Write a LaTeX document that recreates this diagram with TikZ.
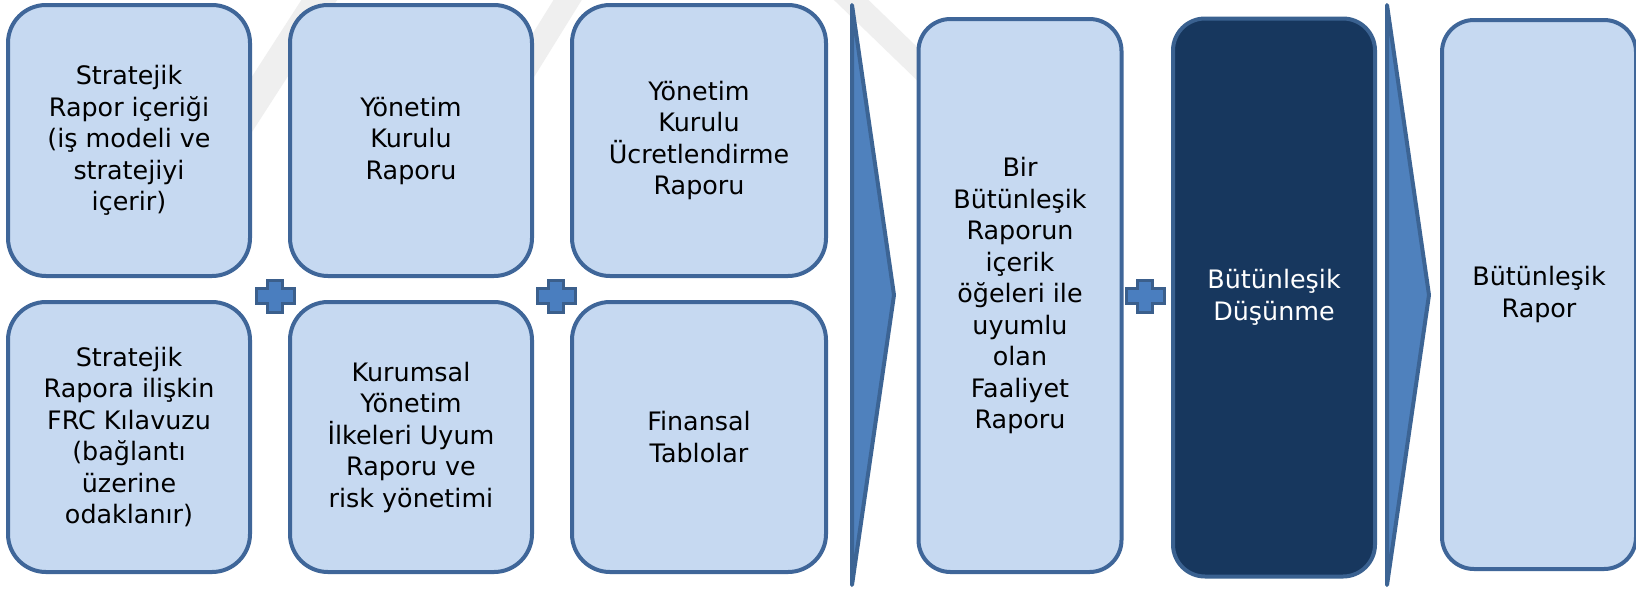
\documentclass[tikz,border=0pt]{standalone}
\usepackage{fontspec}
\setmainfont{DejaVu Sans}
\definecolor{boxfill}{HTML}{C6D9F1}
\definecolor{boxline}{HTML}{3F6699}
\definecolor{chevfill}{HTML}{4F81BD}
\definecolor{chevline}{HTML}{3C6494}
\definecolor{darkfill}{HTML}{17375E}
\definecolor{darkline}{HTML}{3A6190}
\definecolor{plusfill}{HTML}{4A7EBF}
\definecolor{plusline}{HTML}{3B5F8C}
\definecolor{faintgray}{HTML}{EFEFEF}
\tikzset{
  boxtext/.style={font=\fontsize{25.4}{31.5}\selectfont, align=center,
    execute at begin node={\rule{0pt}{1.3em}}},
  lbox/.style={boxtext, draw=boxline, fill=boxfill, line width=4pt,
    rounded corners=38pt, inner sep=0pt, text=black},
  tbox/.style={lbox, rounded corners=32pt},
  dbox/.style={tbox, draw=darkline, fill=darkfill, text=white},
  chevron/.style={draw=chevline, fill=chevfill, line width=4pt, line join=round},
  plussign/.pic={
    \draw[draw=plusline, fill=plusfill, line width=3pt]
      (-19,-7.5) -- (-7.5,-7.5) -- (-7.5,-16) -- (7.5,-16) -- (7.5,-7.5)
      -- (19,-7.5) -- (19,7.5) -- (7.5,7.5) -- (7.5,16) -- (-7.5,16)
      -- (-7.5,7.5) -- (-19,7.5) -- cycle;
  },
  band/.style={draw=faintgray, line width=30pt}
}
\begin{document}
\begin{tikzpicture}[x=1pt,y=-1pt]
\useasboundingbox (0,0) rectangle (1636,590);
\fill[white] (0,0) rectangle (1636,590);

% faint background marks
\draw[band] (345,-40) -- (200,185);
\draw[band, line width=24pt] (580,-20) -- (515,85);
\draw[band, line width=24pt] (815,-35) -- (965,110);

% first group: six source documents
\node[lbox, minimum width=242pt, minimum height=271pt] (a1) at (129,140.5)
  {Stratejik\\Rapor içeriği\\(iş modeli ve\\stratejiyi\\içerir)};
\node[lbox, minimum width=242pt, minimum height=270pt] (a2) at (129,437)
  {Stratejik\\Rapora ilişkin\\FRC Kılavuzu\\(bağlantı\\üzerine\\odaklanır)};
\node[lbox, minimum width=242pt, minimum height=271pt] (b1) at (411,140.5)
  {Yönetim\\Kurulu\\Raporu};
\node[lbox, minimum width=242pt, minimum height=270pt] (b2) at (411,437)
  {Kurumsal\\Yönetim\\İlkeleri Uyum\\Raporu ve\\risk yönetimi};
\node[lbox, minimum width=254pt, minimum height=271pt] (c1) at (699,140.5)
  {Yönetim\\Kurulu\\Ücretlendirme\\Raporu};
\node[lbox, minimum width=254pt, minimum height=270pt] (c2) at (699,437)
  {Finansal\\Tablolar};

\pic at (275,296) {plussign};
\pic at (556,296) {plussign};

% first arrow
\draw[chevron] (852,5) -- (894,295) -- (852,585) -- cycle;

% second group
\node[tbox, minimum width=203pt, minimum height=553pt] (d) at (1020,295.5)
  {Bir\\Bütünleşik\\Raporun\\içerik\\öğeleri ile\\uyumlu\\olan\\Faaliyet\\Raporu};
\pic at (1145,296) {plussign};
\node[dbox, minimum width=202pt, minimum height=558pt] (e) at (1274,297.5)
  {Bütünleşik\\Düşünme};

% second arrow
\draw[chevron] (1387,5) -- (1429,295) -- (1387,585) -- cycle;

% result
\node[tbox, minimum width=194pt, minimum height=549pt] (f) at (1539,294.5)
  {Bütünleşik\\Rapor};
\end{tikzpicture}
\end{document}
